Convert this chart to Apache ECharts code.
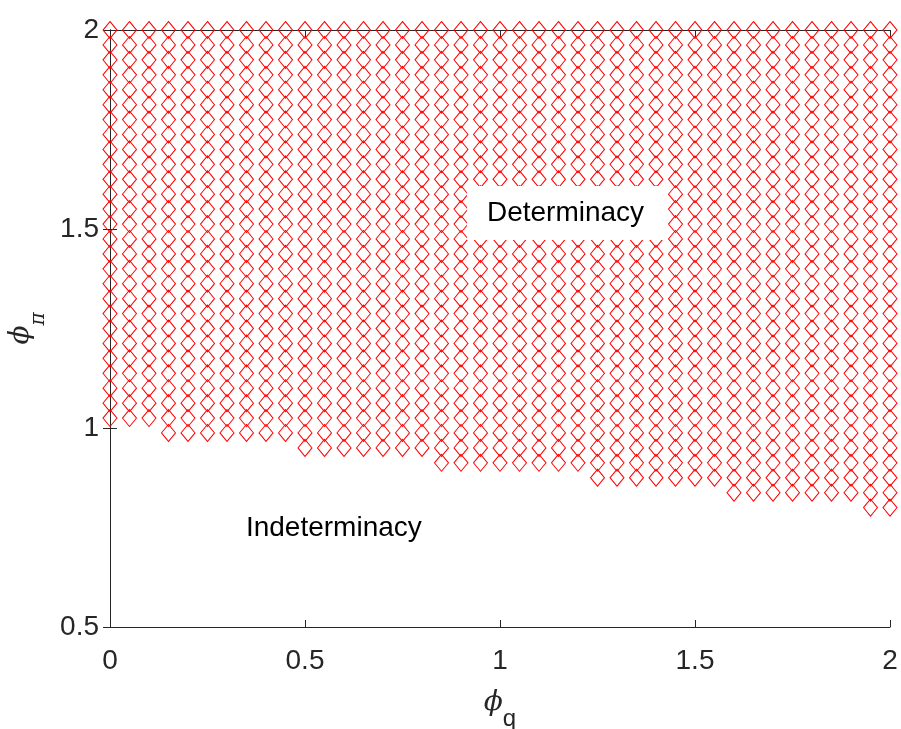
<!DOCTYPE html>
<html>
<head>
<meta charset="utf-8">
<script src="https://cdn.jsdelivr.net/npm/echarts@6/dist/echarts.min.js"></script>
<style>
  html, body { margin: 0; padding: 0; background: #fff; }
  #chart { width: 901px; height: 729px; }
</style>
</head>
<body>
<div id="chart"></div>
<script>
// Grid of policy coefficients that were checked
const phiQ = [0, 0.05, 0.1, 0.15, 0.2, 0.25, 0.3, 0.35, 0.4, 0.45,
  0.5, 0.55, 0.6, 0.65, 0.7, 0.75, 0.8, 0.85, 0.9, 0.95,
  1, 1.05, 1.1, 1.15, 1.2, 1.25, 1.3, 1.35, 1.4, 1.45,
  1.5, 1.55, 1.6, 1.65, 1.7, 1.75, 1.8, 1.85, 1.9, 1.95, 2];
const phiPi = [0.5, 0.5375, 0.575, 0.6125, 0.65, 0.6875, 0.725, 0.7625, 0.8, 0.8375,
  0.875, 0.9125, 0.95, 0.9875, 1.025, 1.0625, 1.1, 1.1375, 1.175, 1.2125,
  1.25, 1.2875, 1.325, 1.3625, 1.4, 1.4375, 1.475, 1.5125, 1.55, 1.5875,
  1.625, 1.6625, 1.7, 1.7375, 1.775, 1.8125, 1.85, 1.8875, 1.925, 1.9625, 2];
// Smallest phi_pi giving a determinate equilibrium, per phi_q column
const minDeterminatePhiPi = [1.025, 1.025, 1.025,
  0.9875, 0.9875, 0.9875, 0.9875, 0.9875, 0.9875, 0.9875,
  0.95, 0.95, 0.95, 0.95, 0.95, 0.95, 0.95,
  0.9125, 0.9125, 0.9125, 0.9125, 0.9125, 0.9125, 0.9125, 0.9125,
  0.875, 0.875, 0.875, 0.875, 0.875, 0.875, 0.875,
  0.8375, 0.8375, 0.8375, 0.8375, 0.8375, 0.8375, 0.8375,
  0.8, 0.8];
const xTicks = [0, 0.5, 1, 1.5, 2];
const yTicks = [0.5, 1, 1.5, 2];
const regionNames = ['Determinacy', 'Indeterminacy'];
const regionAnchors = [[1.168, 1.54], [0.574, 0.749]];

// Determinate grid points
const determinate = [];
phiQ.forEach((q, i) => {
  phiPi.forEach(p => {
    if (p >= minDeterminatePhiPi[i] - 1e-9) determinate.push([q, p]);
  });
});

const tickFont = { fontFamily: 'Liberation Sans', fontSize: 28, color: '#262626' };
const axisLineStyle = { color: '#262626', width: 1 };
const tickFmt = v => (xTicks.includes(v) || yTicks.includes(v)) ? String(v) : '';

const chart = echarts.init(document.getElementById('chart'), null, { renderer: 'canvas' });
chart.setOption({
  animation: false,
  backgroundColor: '#ffffff',
  grid: { left: 110, right: 11, top: 30, bottom: 102, containLabel: false, outerBoundsMode: 'none' },
  xAxis: [{
    type: 'value', min: 0, max: 2, interval: 0.5,
    axisLine: { show: true, lineStyle: axisLineStyle },
    axisTick: { show: true, inside: true, length: 7, lineStyle: axisLineStyle },
    axisLabel: Object.assign({ margin: 20, formatter: tickFmt }, tickFont),
    splitLine: { show: false },
    name: '{phi|ϕ}{sub|q}',
    nameLocation: 'middle',
    nameGap: 62,
    nameTextStyle: {
      rich: {
        phi: { fontFamily: 'DejaVu Serif', fontStyle: 'italic', fontSize: 28, color: '#262626', lineHeight: 42, verticalAlign: 'top' },
        sub: { fontFamily: 'Liberation Sans', fontSize: 24, color: '#262626', lineHeight: 42, verticalAlign: 'bottom' }
      }
    }
  }, {
    type: 'value', min: 0, max: 2, interval: 0.5, position: 'top',
    axisLine: { show: true, lineStyle: axisLineStyle },
    axisTick: { show: true, inside: true, length: 7, lineStyle: axisLineStyle },
    axisLabel: { show: false },
    splitLine: { show: false }
  }],
  yAxis: [{
    type: 'value', min: 0.5, max: 2, interval: 0.5,
    axisLine: { show: true, lineStyle: axisLineStyle },
    axisTick: { show: true, inside: true, length: 7, lineStyle: axisLineStyle },
    axisLabel: Object.assign({ margin: 11, formatter: tickFmt }, tickFont),
    splitLine: { show: false },
    name: '{phi|ϕ}{sub|π}',
    nameLocation: 'middle',
    nameRotate: 90,
    nameGap: 59,
    nameTextStyle: {
      rich: {
        phi: { fontFamily: 'DejaVu Serif', fontStyle: 'italic', fontSize: 28, color: '#262626', lineHeight: 42, verticalAlign: 'top' },
        sub: { fontFamily: 'DejaVu Serif', fontStyle: 'italic', fontSize: 20, color: '#262626', lineHeight: 42, verticalAlign: 'bottom' }
      }
    }
  }, {
    type: 'value', min: 0.5, max: 2, interval: 0.5, position: 'right',
    axisLine: { show: true, lineStyle: axisLineStyle },
    axisTick: { show: true, inside: true, length: 7, lineStyle: axisLineStyle },
    axisLabel: { show: false },
    splitLine: { show: false }
  }],
  series: [{
    name: 'Determinacy region',
    type: 'scatter',
    xAxisIndex: 0, yAxisIndex: 0,
    data: determinate,
    symbol: 'diamond',
    symbolSize: [14, 17],
    clip: false,
    itemStyle: { color: 'rgba(0,0,0,0)', borderColor: '#ff0000', borderWidth: 1, opacity: 1 },
    emphasis: { disabled: true },
    z: 3
  }, {
    name: 'Region labels',
    type: 'scatter',
    xAxisIndex: 0, yAxisIndex: 0,
    data: regionAnchors.map((a, i) => ({
      value: a,
      label: {
        show: true,
        position: 'inside',
        formatter: regionNames[i],
        fontFamily: 'Liberation Sans',
        fontSize: 28,
        color: '#000000',
        backgroundColor: i === 0 ? '#ffffff' : 'transparent',
        padding: i === 0 ? [12, 20, 14, 20] : 0
      }
    })),
    symbolSize: 0,
    itemStyle: { opacity: 1 },
    emphasis: { disabled: true },
    silent: true,
    z: 10
  }]
});
</script>
</body>
</html>
